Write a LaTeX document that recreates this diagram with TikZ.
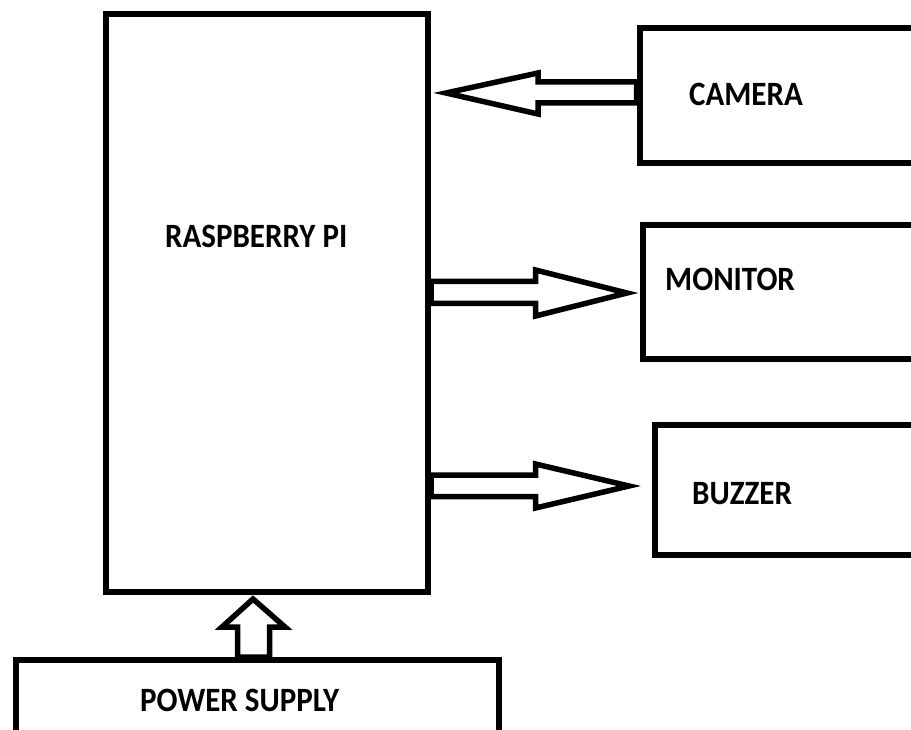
\documentclass[tikz,border=0pt]{standalone}
\usepackage{fontspec}
\setmainfont{Carlito}
\usetikzlibrary{calc}
\begin{document}
\begin{tikzpicture}[x=1pt,y=-1pt,
  box/.style={draw, line width=6pt, inner sep=0pt, rectangle},
  lbl/.style={anchor=west, inner sep=0pt, font=\fontsize{31}{31}\selectfont\bfseries},
  barrow/.style={draw, line width=5.5pt, line join=miter}]
\useasboundingbox (0,0) rectangle (911,730);
% boxes
\node[box, minimum width=322pt, minimum height=578pt] (pi) at (267,303) {};
\node[box, minimum width=320.5pt, minimum height=135.5pt] (cam) at (799.75,95.75) {};
\node[box, minimum width=317.5pt, minimum height=133.5pt] (mon) at (801.25,291.75) {};
\node[box, minimum width=305.5pt, minimum height=130pt] (buz) at (807.25,490) {};
\node[box, minimum width=483.5pt, minimum height=120pt] (ps) at (257.25,720) {};
% labels
\node[lbl] (picap) at (165,236.5) {\scalebox{1}[1.1]{RASPBERRY PI}};
\node[lbl] (camcap) at (689,94) {\scalebox{1}[1.1]{CAMERA}};
\node[lbl] (moncap) at (665,279) {\scalebox{1}[1.1]{MONITOR}};
\node[lbl] (buzcap) at (692,494) {\scalebox{1}[1.1]{BUZZER}};
\node[lbl] (pscap) at (140,700) {\scalebox{1}[1.1]{POWER SUPPLY}};
% arrow tips
\coordinate (camtip) at (446,93);
\coordinate (montip) at (627,293);
\coordinate (buztip) at (629,486);
\coordinate (pstip) at (253,599);
% camera -> pi
\draw[barrow] (camtip) -- ($(camtip)+(92,-20)$) -- ($(camtip)+(92,-11)$)
  -- ($(cam.west|-camtip)+(0,-11)$) -- ($(cam.west|-camtip)+(0,10)$)
  -- ($(camtip)+(92,10)$) -- ($(camtip)+(92,21)$) -- cycle;
% pi -> monitor
\draw[barrow] (montip) -- ($(montip)+(-91.5,-23)$) -- ($(montip)+(-91.5,-11.5)$)
  -- ($(pi.east|-montip)+(0,-11.5)$) -- ($(pi.east|-montip)+(0,10.5)$)
  -- ($(montip)+(-91.5,10.5)$) -- ($(montip)+(-91.5,23)$) -- cycle;
% pi -> buzzer
\draw[barrow] (buztip) -- ($(buztip)+(-93.5,-22)$) -- ($(buztip)+(-93.5,-11)$)
  -- ($(pi.east|-buztip)+(0,-11)$) -- ($(pi.east|-buztip)+(0,10.5)$)
  -- ($(buztip)+(-93.5,10.5)$) -- ($(buztip)+(-93.5,22)$) -- cycle;
% power supply -> pi
\draw[barrow] (pstip) -- ($(pstip)+(32,28)$) -- ($(pstip)+(16.5,28)$)
  -- ($(ps.north-|pstip)+(16.5,0)$) -- ($(ps.north-|pstip)+(-15.5,0)$)
  -- ($(pstip)+(-15.5,28)$) -- ($(pstip)+(-31,28)$) -- cycle;
\end{tikzpicture}
\end{document}
